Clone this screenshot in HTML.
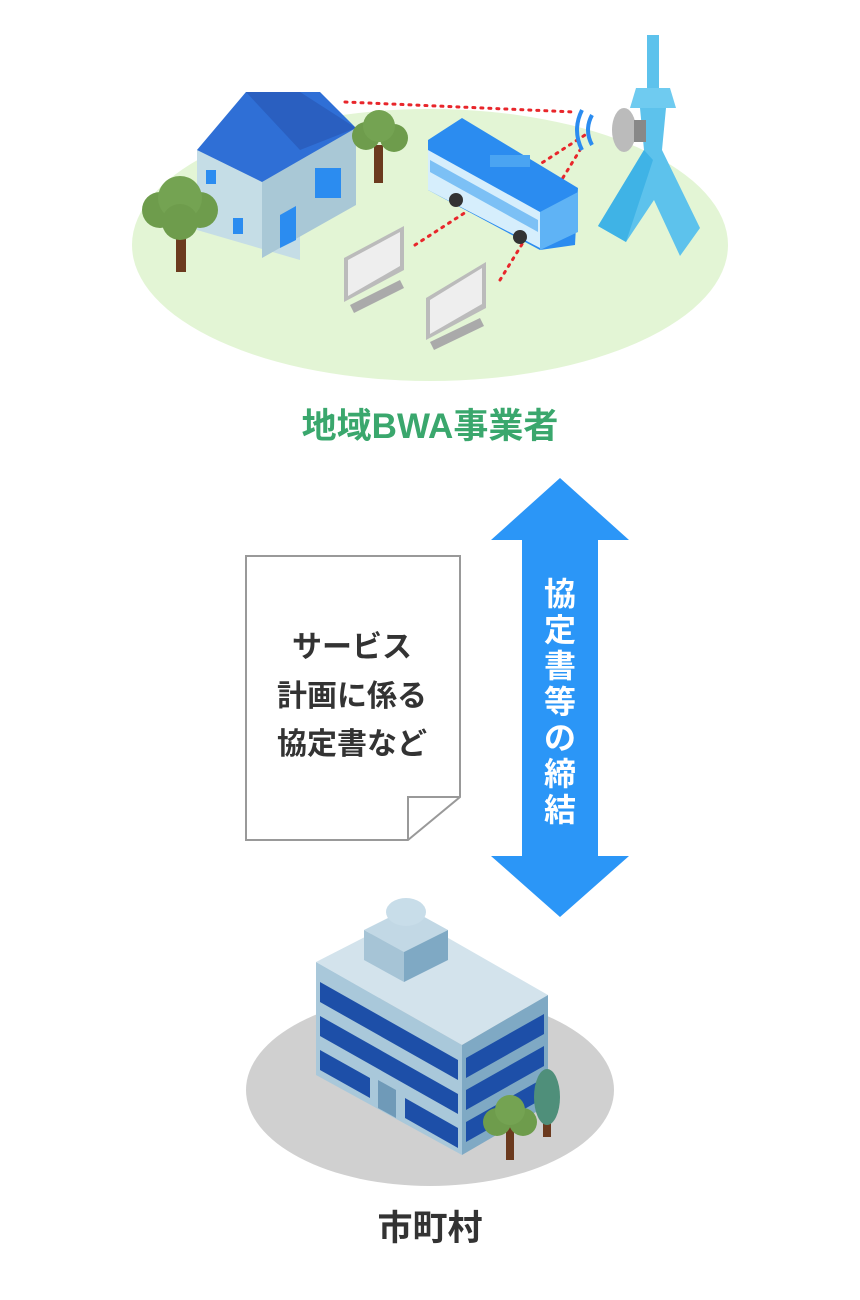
<!DOCTYPE html>
<html><head><meta charset="utf-8"><style>
body{margin:0;background:#fff;width:860px;height:1295px;overflow:hidden;font-family:"Liberation Sans","Noto Sans CJK JP",sans-serif}
</style></head><body>
<svg width="860" height="1295" viewBox="0 0 860 1295" xmlns="http://www.w3.org/2000/svg" font-family="Liberation Sans, Noto Sans CJK JP, sans-serif">
<ellipse cx="430" cy="245" rx="298" ry="136" fill="#e3f5d5"/>
<g stroke="#e8262b" stroke-width="3" stroke-dasharray="2 6" fill="none" stroke-linecap="round">
<path d="M345 102 L575 112"/><path d="M415 245 L585 135"/><path d="M500 280 L580 150"/>
</g>
<!-- house -->
<polygon points="197,150 246,92 300,150 300,260 197,230" fill="#c5dde6"/>
<polygon points="262,180 356,128 356,205 262,258" fill="#a9c8d6"/>
<polygon points="197,150 246,92 320,92 356,128 262,182" fill="#2f6fd6"/>
<polygon points="246,92 300,92 356,128 300,150" fill="#2a5fc0"/>
<rect x="206" y="170" width="10" height="14" fill="#2b8cf0"/><rect x="233" y="218" width="10" height="16" fill="#2b8cf0"/>
<polygon points="280,215 296,206 296,240 280,248" fill="#2b8cf0"/>
<rect x="315" y="168" width="26" height="30" fill="#2b8cf0"/>
<g><rect x="176" y="220" width="10" height="52" fill="#6b3a1e"/><circle cx="160" cy="210" r="18" fill="#6e9c4c"/><circle cx="200" cy="210" r="18" fill="#6e9c4c"/><circle cx="180" cy="198" r="22" fill="#74a352"/><circle cx="180" cy="222" r="18" fill="#6e9c4c"/></g>
<g><rect x="374" y="145" width="9" height="38" fill="#6b3a1e"/><circle cx="366" cy="136" r="14" fill="#6e9c4c"/><circle cx="394" cy="138" r="14" fill="#6e9c4c"/><circle cx="379" cy="126" r="16" fill="#74a352"/></g>
<!-- bus -->
<polygon points="428,140 462,118 578,188 575,245 540,250 428,190" fill="#2b8cf0"/>
<polygon points="428,150 540,212 540,248 428,190" fill="#d6eefc"/>
<polygon points="430,160 538,220 538,232 430,172" fill="#7cc0f5"/>
<polygon points="540,212 578,192 578,232 540,250" fill="#5fb3f5"/>
<rect x="490" y="155" width="40" height="12" fill="#4aa4f2"/>
<circle cx="456" cy="200" r="7" fill="#333"/><circle cx="520" cy="237" r="7" fill="#333"/>
<!-- monitors -->
<g><polygon points="344,258 404,226 404,270 344,302" fill="#bbb"/><polygon points="348,260 400,232 400,266 348,296" fill="#eee"/><polygon points="350,305 400,280 404,288 354,313" fill="#aaa"/></g>
<g><polygon points="426,298 486,262 486,308 426,340" fill="#bbb"/><polygon points="430,300 482,268 482,304 430,334" fill="#eee"/><polygon points="430,342 480,318 484,326 434,350" fill="#aaa"/></g>
<!-- tower -->
<rect x="647" y="35" width="12" height="55" fill="#5dc2ec"/>
<polygon points="636,88 670,88 676,108 630,108" fill="#6fcbf0"/>
<polygon points="640,108 666,108 662,150 700,228 680,256 654,200 626,242 598,226 644,150" fill="#5dc2ec"/>
<polygon points="598,226 644,150 653,160 626,242" fill="#3fb3e6"/>
<ellipse cx="624" cy="130" rx="12" ry="22" fill="#bbb"/><rect x="634" y="120" width="12" height="22" fill="#888"/>
<path d="M592 115 Q584 130 592 145 M582 110 Q572 130 582 150" stroke="#2b8cf0" stroke-width="4" fill="none"/>
<text x="430" y="438" text-anchor="middle" font-size="35" font-weight="bold" fill="#3aa76d">地域BWA事業者</text>
<polygon points="560,478 629,540 598,540 598,856 629,856 560,917 491,856 522,856 522,540 491,540" fill="#2b96f7"/>
<text font-size="32" font-weight="bold" fill="#fff" text-anchor="middle"><tspan x="560" y="605">協</tspan><tspan x="560" y="641">定</tspan><tspan x="560" y="677">書</tspan><tspan x="560" y="713">等</tspan><tspan x="560" y="749">の</tspan><tspan x="560" y="785">締</tspan><tspan x="560" y="821">結</tspan></text>
<path d="M246 556 L460 556 L460 797 L408 840 L246 840 Z" fill="#fff" stroke="#999" stroke-width="2"/>
<path d="M460 797 L408 797 L408 840" fill="none" stroke="#999" stroke-width="2"/>
<text font-size="30" font-weight="bold" fill="#333" text-anchor="middle"><tspan x="352" y="657">サービス</tspan><tspan x="352" y="706">計画に係る</tspan><tspan x="352" y="754">協定書など</tspan></text>
<ellipse cx="430" cy="1090" rx="184" ry="96" fill="#d0d0d0"/>
<polygon points="316,962 408,915 548,995 462,1045" fill="#d3e3ec"/>
<polygon points="316,962 462,1045 462,1155 316,1075" fill="#a9c8da"/>
<polygon points="462,1045 548,995 548,1105 462,1155" fill="#7fa9c4"/>
<g fill="#1d4fa8">
<polygon points="320,982 458,1060 458,1080 320,1002"/>
<polygon points="320,1016 458,1094 458,1114 320,1036"/>
<polygon points="320,1050 370,1078 370,1098 320,1070"/>
<polygon points="405,1098 458,1128 458,1148 405,1118"/>
<polygon points="466,1058 544,1014 544,1034 466,1078"/>
<polygon points="466,1090 544,1046 544,1066 466,1110"/>
<polygon points="466,1122 544,1078 544,1098 466,1142"/>
</g>
<polygon points="378,1080 396,1090 396,1118 378,1108" fill="#6f9ab8"/>
<polygon points="364,930 408,908 448,930 404,952" fill="#c2d8e5"/>
<polygon points="364,930 404,952 404,982 364,960" fill="#a6c4d6"/>
<polygon points="404,952 448,930 448,960 404,982" fill="#7fa9c4"/>
<ellipse cx="406" cy="912" rx="20" ry="14" fill="#c8dde9"/>
<g><rect x="506" y="1120" width="8" height="40" fill="#6b3a1e"/><circle cx="497" cy="1122" r="14" fill="#6e9c4c"/><circle cx="523" cy="1122" r="14" fill="#6e9c4c"/><circle cx="510" cy="1110" r="15" fill="#74a352"/></g>
<g><rect x="543" y="1115" width="8" height="22" fill="#6b3a1e"/><ellipse cx="547" cy="1097" rx="13" ry="28" fill="#4f8f7a"/></g>
<text x="430" y="1240" text-anchor="middle" font-size="35" font-weight="bold" fill="#333">市町村</text>
</svg>
</body></html>
